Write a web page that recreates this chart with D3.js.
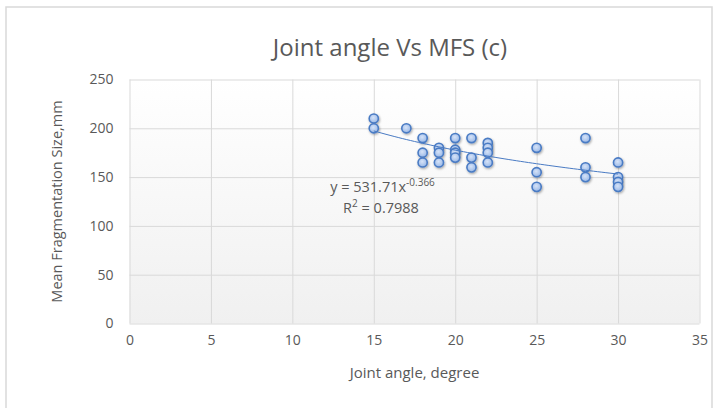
<!DOCTYPE html>
<html>
<head>
<meta charset="utf-8">
<script src="https://cdn.jsdelivr.net/npm/d3@7"></script>
<style>
  html, body { margin: 0; padding: 0; background: #fff; }
  svg { display: block; font-family: "Open Sans", "Noto Sans", sans-serif; }
</style>
</head>
<body>
<svg id="chart" width="719" height="408"></svg>
<script>
// ---- data ----
const jointAngle = [15, 15, 17, 18, 18, 18, 19, 19, 19, 20, 20, 20, 20, 21, 21, 21, 22, 22, 22, 22, 25, 25, 25, 28, 28, 28, 30, 30, 30, 30];
const mfs        = [210, 200, 200, 190, 175, 165, 180, 175, 165, 190, 178, 175, 170, 190, 170, 160, 185, 180, 175, 165, 180, 155, 140, 190, 160, 150, 165, 150, 145, 140];
const xTicks = [0, 5, 10, 15, 20, 25, 30, 35];
const yTicks = [0, 50, 100, 150, 200, 250];
const trendCoef = [531.71];
const trendExp = [-0.366];
const trendRange = [15, 30];
const titleText = "Joint angle Vs MFS (c)";
const xTitle = "Joint angle, degree";
const yTitle = "Mean Fragmentation Size,mm";

const svg = d3.select("#chart");
const m = { left: 129.5, right: 699.5, top: 79.5, bottom: 323.5 };

// chart border
svg.append("rect").attr("x", 6).attr("y", 7).attr("width", 706).attr("height", 410)
  .attr("fill", "#fff").attr("stroke", "#d9d9d9").attr("stroke-width", 1.5);

const defs = svg.append("defs");
const bg = defs.append("linearGradient").attr("id", "plotbg").attr("x1", 0).attr("y1", 0).attr("x2", 0).attr("y2", 1);
bg.append("stop").attr("offset", "0%").attr("stop-color", "#ffffff");
bg.append("stop").attr("offset", "100%").attr("stop-color", "#f0f0f0");
const mg = defs.append("radialGradient").attr("id", "mk").attr("cx", "45%").attr("cy", "40%").attr("r", "60%");
mg.append("stop").attr("offset", "0%").attr("stop-color", "#d6e3f8");
mg.append("stop").attr("offset", "100%").attr("stop-color", "#98b7e6");
const sh = defs.append("filter").attr("id", "shadow").attr("x", "-50%").attr("y", "-50%").attr("width", "200%").attr("height", "200%");
sh.append("feDropShadow").attr("dx", 0.8).attr("dy", 1.2).attr("stdDeviation", 0.9).attr("flood-color", "#000").attr("flood-opacity", 0.35);

const x = d3.scaleLinear().domain([0, 35]).range([m.left, m.right]);
const y = d3.scaleLinear().domain([0, 250]).range([m.bottom, m.top]);

svg.append("rect").attr("x", m.left).attr("y", m.top)
  .attr("width", m.right - m.left).attr("height", m.bottom - m.top).attr("fill", "url(#plotbg)");

// gridlines
const gx = svg.append("g").attr("transform", `translate(0,${m.bottom})`)
  .call(d3.axisBottom(x).tickValues(xTicks).tickSize(-(m.bottom - m.top)).tickFormat(""));
const gy = svg.append("g").attr("transform", `translate(${m.left},0)`)
  .call(d3.axisLeft(y).tickValues(yTicks).tickSize(-(m.right - m.left)).tickFormat(""));
[gx, gy].forEach(g => {
  g.select(".domain").remove();
  g.selectAll("line").attr("stroke", "#d9d9d9").attr("stroke-width", 1);
});

// tick labels
const ax = svg.append("g").attr("transform", `translate(0,${m.bottom})`)
  .call(d3.axisBottom(x).tickValues(xTicks).tickSize(0).tickPadding(12));
const ay = svg.append("g").attr("transform", `translate(${m.left},0)`)
  .call(d3.axisLeft(y).tickValues(yTicks).tickSize(0).tickPadding(16));
[ax, ay].forEach(g => {
  g.select(".domain").remove();
  g.selectAll("text").attr("fill", "#595959").style("font-size", "14px")
    .style("font-family", "'Open Sans', sans-serif");
});

// title
svg.append("text").attr("x", 390).attr("y", 56).attr("text-anchor", "middle")
  .attr("fill", "#595959").style("font-size", "24px").text(titleText);
// axis titles
svg.append("text").attr("x", (m.left + m.right) / 2).attr("y", 378).attr("text-anchor", "middle")
  .attr("fill", "#595959").style("font-size", "15px").text(xTitle);
svg.append("text").attr("transform", `translate(62,${(m.top + m.bottom) / 2}) rotate(-90)`)
  .attr("text-anchor", "middle").attr("fill", "#595959").style("font-size", "14.5px").text(yTitle);

// markers
svg.append("g").selectAll("circle").data(jointAngle.map((a, i) => [a, mfs[i]])).join("circle")
  .attr("cx", d => x(d[0])).attr("cy", d => y(d[1])).attr("r", 4.6)
  .attr("fill", "url(#mk)").attr("stroke", "#4a7bc4").attr("stroke-width", 1.6)
  .attr("filter", "url(#shadow)");

// trendline (power fit)
const tx = d3.range(trendRange[0], trendRange[1] + 0.001, 0.25);
svg.append("path").datum(tx.map(v => [v, trendCoef[0] * Math.pow(v, trendExp[0])]))
  .attr("d", d3.line().x(d => x(d[0])).y(d => y(d[1])))
  .attr("fill", "none").attr("stroke", "#4a7bc4").attr("stroke-width", 1);

// equation label
const eq = svg.append("text").attr("x", 382.5).attr("y", 192).attr("text-anchor", "middle")
  .attr("fill", "#595959").style("font-size", "14.5px");
eq.append("tspan").text(`y = ${trendCoef[0]}x`);
eq.append("tspan").attr("dy", -6).style("font-size", "10px").text(`${trendExp[0]}`);
const r2 = svg.append("text").attr("x", 381).attr("y", 213).attr("text-anchor", "middle")
  .attr("fill", "#595959").style("font-size", "14.5px");
r2.append("tspan").text("R");
r2.append("tspan").attr("dy", -6).style("font-size", "10px").text("2");
r2.append("tspan").attr("dy", 6).text(" = 0.7988");
</script>
</body>
</html>
